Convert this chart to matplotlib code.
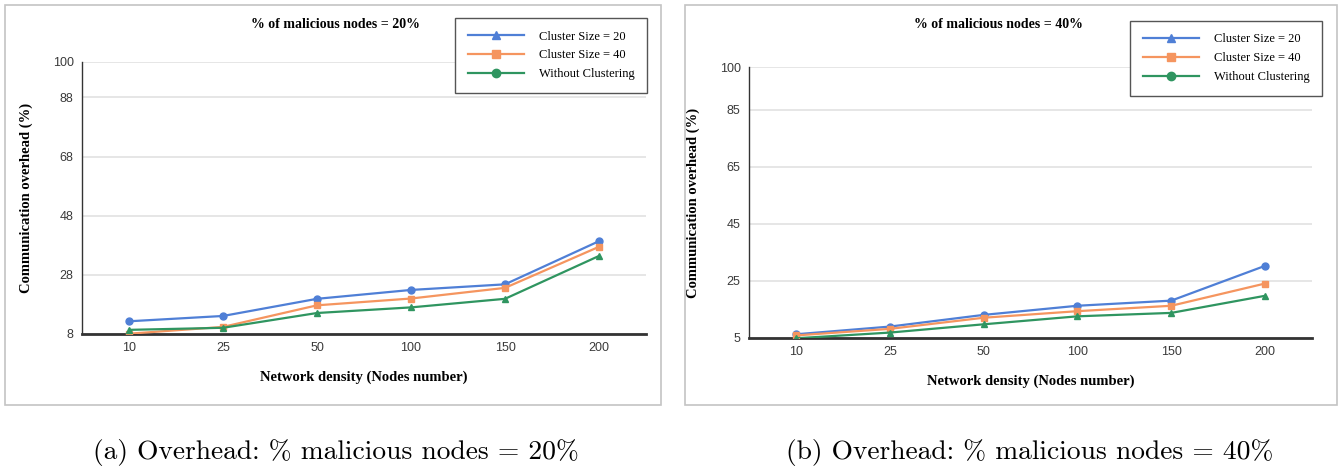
import matplotlib
matplotlib.use("Agg")
import matplotlib.pyplot as plt
from matplotlib.lines import Line2D
from matplotlib.patches import Rectangle

# Datos: sobrecarga de comunicación frente a densidad de red
densidad = ["10", "25", "50", "100", "150", "200"]

# % nodos maliciosos = 20%
cs20_a = [12.3, 14.1, 19.9, 22.9, 24.8, 39.4]
cs40_a = [8.1, 10.4, 17.7, 20.0, 23.6, 37.5]
sin_a = [9.4, 10.1, 15.1, 17.0, 19.9, 34.4]
yticks_a = [8, 28, 48, 68, 88, 100]

# % nodos maliciosos = 40%
cs20_b = [6.3, 9.0, 13.1, 16.3, 18.1, 30.3]
cs40_b = [5.9, 8.2, 12.1, 14.4, 16.3, 24.1]
sin_b = [4.9, 6.9, 9.8, 12.6, 13.8, 19.8]
yticks_b = [5, 25, 45, 65, 85, 100]

series_names = ["Cluster Size = 20", "Cluster Size = 40", "Without Clustering"]
azul, naranja, verde = "#4f7fd6", "#f5955f", "#2f9560"

W, H = 1344, 467
fig = plt.figure(figsize=(W / 100, H / 100), dpi=100)
fig.patch.set_facecolor("white")

def caja(x0, y0, x1, y1):
    # x, y en píxeles desde arriba-izquierda
    fig.patches.append(Rectangle((x0 / W, 1 - y1 / H), (x1 - x0) / W, (y1 - y0) / H,
                                 transform=fig.transFigure, fill=False,
                                 edgecolor="#c4c4c4", lw=1.2))

def panel(rect, s20, s40, s0, yticks, titulo, titulo_x, leg_anchor):
    x0, y0, x1, y1 = rect
    ax = fig.add_axes([x0 / W, 1 - y1 / H, (x1 - x0) / W, (y1 - y0) / H])
    x = range(len(densidad))
    ax.plot(x, s20, color=azul, lw=1.6, marker="o", ms=5, zorder=3)
    ax.plot(x, s40, color=naranja, lw=1.6, marker="s", ms=5, zorder=3)
    ax.plot(x, s0, color=verde, lw=1.6, marker="^", ms=5, zorder=3)
    ax.set_xlim(-0.5, 5.5)
    ax.set_ylim(yticks[0], yticks[-1])
    ax.set_xticks(list(x))
    ax.set_xticklabels(densidad)
    ax.set_yticks(yticks)
    ax.tick_params(length=0, labelsize=9, colors="#3a3a3a", pad=6)
    for lab in ax.get_xticklabels() + ax.get_yticklabels():
        lab.set_family("Liberation Sans")
    ax.grid(axis="y", color="#e2e2e2", lw=1.2)
    ax.set_axisbelow(True)
    for s in ["top", "right"]:
        ax.spines[s].set_visible(False)
    ax.spines["left"].set_color("#333333")
    ax.spines["left"].set_linewidth(1.0)
    ax.spines["bottom"].set_color("#333333")
    ax.spines["bottom"].set_linewidth(2.0)
    ax.set_xlabel("Network density (Nodes number)", family="Liberation Serif",
                  fontweight="bold", fontsize=10.5, labelpad=12)
    ax.set_ylabel("Communication overhead (%)", family="Liberation Serif",
                  fontweight="bold", fontsize=10.5, labelpad=14)
    fig.text(titulo_x / W, 1 - 24 / H, titulo, family="Liberation Serif",
             fontweight="bold", fontsize=10, ha="center", va="center")
    handles = [Line2D([], [], color=azul, lw=1.6, marker="^", ms=6),
               Line2D([], [], color=naranja, lw=1.6, marker="s", ms=6),
               Line2D([], [], color=verde, lw=1.6, marker="o", ms=6)]
    leg = ax.legend(handles, series_names, loc="upper right",
                    bbox_to_anchor=leg_anchor, bbox_transform=fig.transFigure,
                    borderaxespad=0,
                    prop={"family": "Liberation Serif", "size": 9},
                    fancybox=False, edgecolor="#555555", framealpha=1,
                    handlelength=4.5, handletextpad=1.2, borderpad=1.0,
                    labelspacing=0.55)
    leg.get_frame().set_linewidth(1.0)
    return ax

caja(5, 5, 661, 405)
caja(685, 5, 1337, 405)

panel((82, 62, 646, 334), cs20_a, cs40_a, sin_a, yticks_a,
      "% of malicious nodes = 20%", 335, (647 / W, 1 - 18 / H))
panel((749, 67, 1312, 338), cs20_b, cs40_b, sin_b, yticks_b,
      "% of malicious nodes = 40%", 998, (1322 / W, 1 - 21 / H))

cap_font = ["cmr10", "DejaVu Serif"]
fig.text(336 / W, 1 - 452 / H, "(a) Overhead: % malicious nodes = 20%",
         family=cap_font, fontsize=19.8, ha="center", va="center")
fig.text(1030 / W, 1 - 452 / H, "(b) Overhead: % malicious nodes = 40%",
         family=cap_font, fontsize=19.8, ha="center", va="center")

fig.savefig("out.png", dpi=100)
